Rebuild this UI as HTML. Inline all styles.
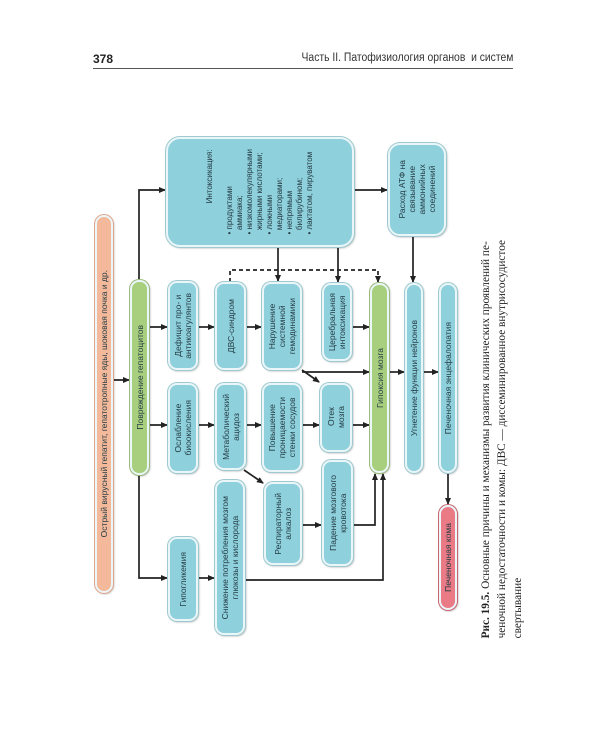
<!DOCTYPE html>
<html><head><meta charset="utf-8"><style>
body{margin:0;background:#fff;}
#p{position:relative;width:600px;height:750px;overflow:hidden;background:#fff;font-family:"Liberation Sans",sans-serif;}
.b{position:absolute;box-sizing:border-box;border-radius:9px;border:2px solid #eaf6f8;box-shadow:0 0 0 1px #9fc9d0,1px 1px 2px rgba(0,0,0,.35);background:#8ed0dc;display:flex;align-items:center;justify-content:center;}
.t{writing-mode:vertical-rl;transform:rotate(180deg);font-size:8.5px;line-height:10px;color:#243c44;text-align:center;white-space:nowrap;}
.g{background:#a8cf7e;box-shadow:0 0 0 1px #9ab97a,1px 1px 2px rgba(0,0,0,.35);}
.o{background:#f3b99a;box-shadow:0 0 0 1px #e0a58a,1px 1px 2px rgba(0,0,0,.3);}
.r{background:#e97a86;box-shadow:0 0 0 1px #c96470,1px 1px 2px rgba(0,0,0,.35);}
svg{position:absolute;left:0;top:0;}
.cap{position:absolute;left:478px;top:240px;width:48px;height:402px;}
.cap .t{font-family:"Liberation Serif",serif;font-size:11.3px;line-height:16px;text-align:left;color:#222;white-space:nowrap;}
</style></head><body><div id="p">
<div style="position:absolute;left:93px;top:52px;font-weight:bold;font-size:12px;color:#222;">378</div>
<div style="position:absolute;right:87px;top:52px;font-size:11.5px;color:#333;transform:scaleX(.9);transform-origin:right;">Часть II. Патофизиология органов&nbsp; и систем</div>
<div style="position:absolute;left:93px;top:68px;width:420px;height:1px;background:#555;"></div>

<svg width="600" height="750">
<defs><marker id="a" markerUnits="userSpaceOnUse" markerWidth="7" markerHeight="7" refX="6" refY="3.5" orient="auto"><path d="M0,0.5 L7,3.5 L0,6.5 z" fill="#222"/></marker></defs>
<g stroke="#222" stroke-width="1.7" fill="none" marker-end="url(#a)">
<path d="M112,380 H129"/>
<path d="M139,280 V190 H165"/>
<path d="M139,475 V578 H167"/>
<path d="M148,327 H167"/><path d="M148,425 H167"/>
<path d="M198,327 H214"/><path d="M246,327 H261"/>
<path d="M198,425 H214"/><path d="M246,425 H261"/>
<path d="M302,425 H319"/><path d="M352,425 H369"/>
<path d="M198,578 H214"/>
<path d="M244,580 H383 V474"/>
<path d="M244,470 L263,483"/>
<path d="M302,525 H321"/>
<path d="M353,525 H375 V474"/>
<path d="M302,370 L319,382"/>
<path d="M302,372 H369"/>
<path d="M352,327 H369"/>
<path d="M390,372 H404"/><path d="M423,372 H438"/>
<path d="M448,472 V504"/>
<path d="M278,247 V281"/><path d="M338,247 V282"/>
<path d="M354,190 H387"/>
<path d="M413,236 V282"/>
<path d="M230,282 V270 H378 V282" stroke-dasharray="4,3"/>
</g></svg>

<div class="b o" style="left:95px;top:215px;width:18px;height:378px;"><div class="t">Острый вирусный гепатит, гепатотропные яды, шоковая почка и др.</div></div>
<div class="b g" style="left:130px;top:280px;width:19px;height:195px;"><div class="t">Повреждение гепатоцитов</div></div>
<div class="b" style="left:166px;top:137px;width:188px;height:110px;border-radius:14px;"><div class="t" style="text-align:left;font-size:8px;line-height:10px;">&nbsp;&nbsp;&nbsp;&nbsp;&nbsp;&nbsp;&nbsp;&nbsp;&nbsp;&nbsp;&nbsp;&nbsp;&nbsp;&nbsp;Интоксикация:<br><br>• продуктами<br>&nbsp;&nbsp;аммиака;<br>• низкомолекулярными<br>&nbsp;&nbsp;жирными кислотами;<br>• ложными<br>&nbsp;&nbsp;медиаторами;<br>• непрямым<br>&nbsp;&nbsp;билирубином;<br>• лактатом, пируватом</div></div>
<div class="b" style="left:388px;top:143px;width:58px;height:93px;border-radius:12px;"><div class="t">Расход АТФ на<br>связывание<br>аммонийных<br>соединений</div></div>

<div class="b" style="left:168px;top:281px;width:30px;height:89px;"><div class="t">Дефицит про- и<br>антикоагулянтов</div></div>
<div class="b" style="left:168px;top:383px;width:30px;height:90px;"><div class="t">Ослабление<br>биоокисления</div></div>
<div class="b" style="left:168px;top:537px;width:30px;height:84px;"><div class="t">Гипогликемия</div></div>

<div class="b" style="left:215px;top:282px;width:31px;height:88px;"><div class="t">ДВС-синдром</div></div>
<div class="b" style="left:215px;top:383px;width:31px;height:87px;"><div class="t">Метаболический<br>ацидоз</div></div>
<div class="b" style="left:215px;top:480px;width:30px;height:155px;"><div class="t">Снижение потребления мозгом<br>глюкозы и кислорода</div></div>

<div class="b" style="left:262px;top:282px;width:40px;height:88px;"><div class="t">Нарушение<br>системной<br>гемодинамики</div></div>
<div class="b" style="left:262px;top:383px;width:40px;height:89px;"><div class="t">Повышение<br>проницаемости<br>стенки сосудов</div></div>
<div class="b" style="left:264px;top:482px;width:38px;height:83px;"><div class="t">Респираторный<br>алкалоз</div></div>

<div class="b" style="left:322px;top:283px;width:30px;height:78px;"><div class="t">Церебральная<br>интоксикация</div></div>
<div class="b" style="left:320px;top:383px;width:32px;height:69px;"><div class="t">Отек<br>мозга</div></div>
<div class="b" style="left:322px;top:460px;width:31px;height:106px;"><div class="t">Падение мозгового<br>кровотока</div></div>

<div class="b g" style="left:370px;top:283px;width:19px;height:190px;"><div class="t">Гипоксия мозга</div></div>
<div class="b" style="left:405px;top:283px;width:18px;height:190px;"><div class="t">Угнетение функции нейронов</div></div>
<div class="b" style="left:439px;top:283px;width:18px;height:190px;"><div class="t">Печеночная энцефалопатия</div></div>
<div class="b r" style="left:439px;top:505px;width:18px;height:105px;"><div class="t">Печеночная кома</div></div>

<div class="cap"><div class="t"><b>Рис. 19.5.</b> Основные причины и механизмы развития клинических проявлений пе-<br>ченочной недостаточности и комы: ДВС — диссеминированное внутрисосудистое<br>свертывание</div></div>
</div></body></html>
